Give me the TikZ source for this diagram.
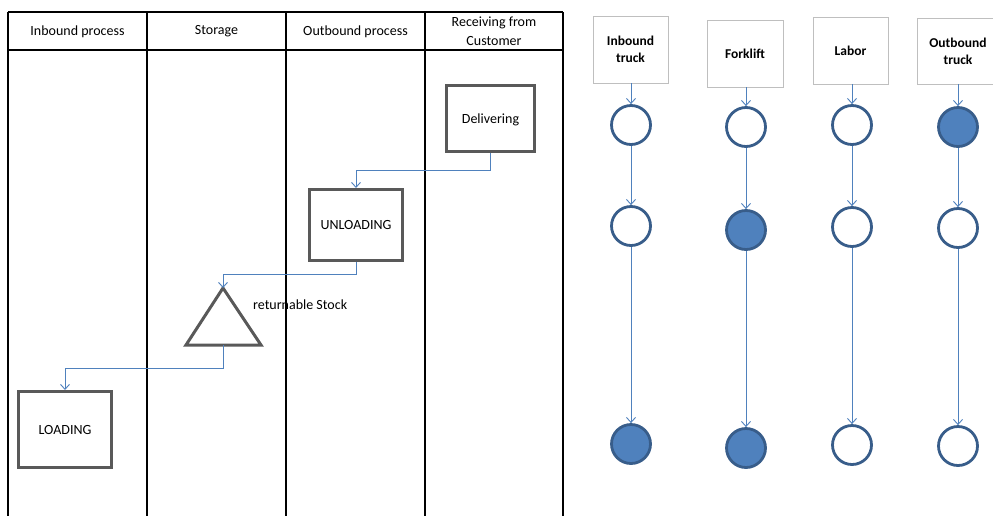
\documentclass[tikz,border=0pt]{standalone}
\usepackage{fontspec}
\setmainfont{Carlito}
\usetikzlibrary{arrows.meta}
\definecolor{flowblue}{HTML}{4F81BD}
\definecolor{ringblue}{HTML}{385D8A}
\definecolor{boxgray}{HTML}{595959}
\definecolor{lightgray}{HTML}{BFBFBF}
\tikzset{
  lane/.style={draw=black, line width=1.1pt},
  lanehead/.style={font=\fontsize{14}{19}\selectfont, align=center, inner sep=0pt},
  procbox/.style={draw=boxgray, line width=3pt, font=\fontsize{14}{17}\selectfont, inner sep=0pt, text depth=0pt},
  flow/.style={draw=flowblue, line width=0.9pt, -{Straight Barb[length=5pt,width=9pt,line width=0.9pt]}},
  resbox/.style={draw=lightgray, line width=0.9pt, font=\fontsize{13.5}{17}\selectfont\bfseries, align=center, inner sep=0pt},
  state/.style={circle, draw=ringblue, line width=2.8pt, minimum size=39pt, inner sep=0pt, fill=white},
  busy/.style={state, fill=flowblue},
}
\begin{document}
\begin{tikzpicture}[x=1pt, y=-1pt]
\clip (0,0) rectangle (993,515);
\useasboundingbox (0,0) rectangle (993,515);
\fill[white] (0,0) rectangle (993,515);

% swimlane table
\draw[lane] (8,12) -- (563,12);
\draw[lane] (8,50) -- (563,50);
\foreach \x in {8,147,286,425,563}
  \draw[lane] (\x,12) -- (\x,520);
\node[lanehead] (h1) at (77.5,31.5) {Inbound process};
\node[lanehead] (h2) at (216.5,31.5) {Storage};
\node[lanehead] (h3) at (355.5,31.5) {Outbound process};
\node[lanehead] (h4) at (494,31.5) {Receiving from\\Customer};

% process steps
\node[procbox, minimum width=88pt, minimum height=66pt] (deliv) at (490.5,118.5) {Delivering};
\node[procbox, minimum width=93pt, minimum height=71pt] (unload) at (356,225) {UNLOADING};
\node[procbox, minimum width=93pt, minimum height=76pt] (load) at (65,429.5) {LOADING};

% stock triangle
\coordinate (tritop) at (223,288);
\coordinate (tribot) at (223,345);
\draw[draw=boxgray, line width=3pt, line join=miter] (223,288) -- (261,345) -- (186,345) -- cycle;
\node[anchor=west, font=\fontsize{14}{17}\selectfont, inner sep=0pt] (stock) at (253,305) {returnable Stock};

% flow between steps
\draw[flow] (deliv.south) -- ++(0,17) -| (unload.north);
\draw[flow] (unload.south) -- ++(0,12) -| (tritop);
\draw[flow] (tribot) -- ++(0,23) -| (load.north);

% resources
\node[resbox, minimum width=75pt, minimum height=67pt, text depth=0pt] (ib) at (630.5,49.5) {Inbound\\truck};
\node[resbox, minimum width=76pt, minimum height=67pt] (fl) at (745,53.5) {Forklift};
\node[resbox, minimum width=75pt, minimum height=67pt] (lb) at (850.5,50.5) {Labor};
\node[resbox, minimum width=82pt, minimum height=66pt] (ob) at (958,51) {Outbound\\truck};

% resource states
\node[state] (ib1) at (631,125) {};
\node[state] (ib2) at (631,226) {};
\node[busy]  (ib3) at (631,444) {};
\node[state] (fl1) at (746,127) {};
\node[busy]  (fl2) at (746,230) {};
\node[busy]  (fl3) at (746,448) {};
\node[state] (lb1) at (852,125) {};
\node[state] (lb2) at (852,227) {};
\node[state] (lb3) at (852,445) {};
\node[busy]  (ob1) at (958,127) {};
\node[state] (ob2) at (958,228) {};
\node[state] (ob3) at (958,446) {};

\foreach \r in {ib,fl,lb,ob} {
  \draw[flow] (\r1.north |- \r.south) -- (\r1.north);
  \draw[flow] (\r1.south) -- (\r2.north);
  \draw[flow] (\r2.south) -- (\r3.north);
}
\end{tikzpicture}
\end{document}
